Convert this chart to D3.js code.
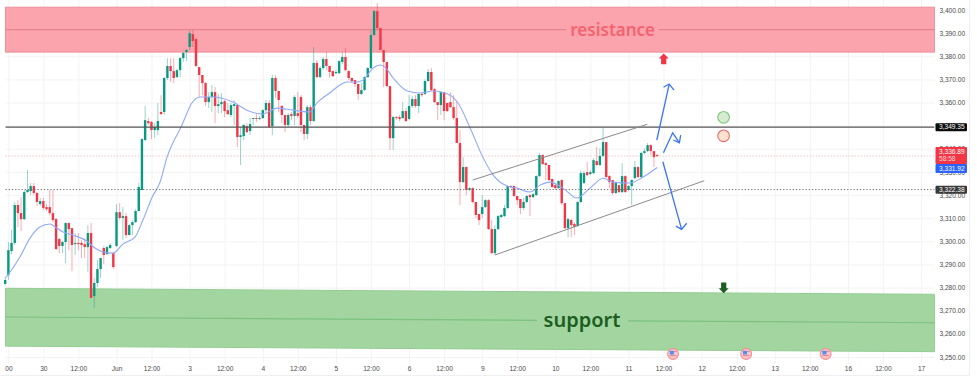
<!DOCTYPE html>
<html>
<head>
<meta charset="utf-8">
<script src="https://cdn.jsdelivr.net/npm/d3@7"></script>
<style>
  html, body { margin: 0; padding: 0; background: #fff; }
  svg { display: block; font-family: "Liberation Sans", Arial, sans-serif; }
</style>
</head>
<body>
<script>
// hourly candles, one entry per bar
const opens = [
  3281.6,3285.4,3295.8,3299.3,3315.7,3312.2,3309.6,3321.3,3321.7,3323.9,
  3320.9,3316.1,3317.4,3314.8,3314.8,3312.2,3309.6,3301.0,3298.0,3299.7,
  3307.9,3305.7,3298.8,3299.3,3299.3,3298.8,3297.5,3303.6,3276.3,3282.0,
  3288.0,3297.1,3294.5,3297.1,3294.9,3298.0,3312.6,3310.1,3310.9,3302.7,
  3307.0,3308.3,3313.1,3322.2,3343.8,3352.0,3351.6,3348.1,3348.1,3355.9,
  3355.9,3370.6,3375.8,3373.6,3371.0,3374.0,3379.2,3381.8,3384.0,3389.6,
  3387.4,3375.3,3371.9,3368.4,3360.2,3362.4,3364.5,3358.5,3359.3,3360.6,
  3356.7,3354.6,3358.5,3358.9,3345.1,3345.5,3349.8,3347.7,3352.9,3353.3,
  3352.9,3353.3,3356.7,3359.8,3349.8,3370.6,3365.0,3358.5,3354.6,3350.3,
  3355.0,3354.2,3355.4,3362.4,3350.3,3346.4,3358.0,3352.0,3377.1,3371.0,
  3374.9,3378.8,3375.8,3373.6,3372.7,3372.7,3377.5,3379.7,3373.6,3370.6,
  3369.7,3368.0,3363.7,3365.4,3371.0,3374.9,3389.2,3399.5,3392.2,3382.7,
  3377.5,3367.1,3344.6,3353.7,3353.7,3353.3,3356.3,3352.9,3358.5,3361.5,
  3358.5,3363.7,3363.7,3369.3,3373.2,3365.8,3360.2,3358.9,3364.5,3359.8,
  3360.2,3358.0,3353.3,3342.5,3325.6,3332.1,3322.2,3323.0,3317.0,3311.8,
  3311.8,3314.8,3317.8,3305.3,3294.9,3305.3,3310.5,3310.9,3314.4,3323.9,
  3323.9,3319.6,3318.3,3314.4,3317.0,3320.0,3319.1,3320.0,3328.2,3337.3,
  3333.8,3333.0,3326.9,3324.3,3323.0,3326.5,3316.5,3305.7,3309.2,3307.5,
  3306.6,3317.0,3325.2,3329.9,3329.1,3329.5,3334.7,3333.0,3336.9,3342.9,
  3328.2,3326.5,3320.9,3324.3,3321.3,3328.2,3322.2,3323.9,3327.3,3332.1,
  3327.8,3338.2,3339.0,3341.6,3339.0,3337.3
];
const highs = [
  3284.6,3299.7,3304.9,3317.0,3317.8,3319.1,3322.2,3330.8,3325.2,3325.2,
  3321.3,3318.7,3318.7,3316.1,3322.2,3322.2,3310.1,3301.4,3300.1,3308.3,
  3308.3,3305.7,3303.6,3303.6,3300.5,3301.4,3307.0,3307.9,3284.1,3291.9,
  3292.8,3298.0,3298.0,3299.3,3295.4,3316.1,3316.5,3314.8,3312.2,3307.5,
  3309.2,3313.9,3325.2,3344.6,3358.5,3353.3,3352.0,3351.1,3359.8,3363.2,
  3371.0,3379.2,3379.2,3379.2,3374.5,3379.7,3381.8,3383.1,3391.3,3391.3,
  3387.9,3375.3,3371.9,3368.9,3364.5,3367.6,3366.7,3363.7,3364.1,3361.1,
  3359.8,3359.8,3361.1,3358.9,3349.4,3350.7,3351.1,3353.3,3353.3,3355.0,
  3354.2,3357.2,3361.1,3361.1,3371.9,3371.9,3365.0,3358.9,3354.6,3355.4,
  3355.9,3363.2,3364.5,3363.2,3350.3,3358.9,3358.9,3384.0,3378.4,3375.8,
  3379.7,3381.8,3375.8,3373.6,3374.0,3378.4,3381.8,3383.5,3374.0,3371.0,
  3369.7,3368.0,3368.4,3371.4,3375.3,3391.3,3400.0,3403.0,3392.2,3382.7,
  3377.5,3367.1,3354.2,3354.2,3354.6,3360.2,3357.6,3363.2,3362.8,3363.2,
  3364.1,3364.5,3370.1,3374.5,3374.9,3366.3,3360.2,3364.5,3364.5,3359.8,
  3364.5,3363.2,3360.2,3348.1,3336.4,3332.5,3323.5,3323.5,3317.0,3311.8,
  3320.0,3318.3,3318.3,3309.2,3307.0,3311.4,3311.8,3315.7,3324.3,3324.3,
  3324.3,3319.6,3318.3,3318.7,3320.0,3320.4,3320.9,3328.6,3338.2,3337.7,
  3334.3,3333.0,3327.3,3324.8,3326.5,3326.9,3316.5,3310.1,3309.6,3308.3,
  3317.4,3330.8,3330.4,3334.3,3330.8,3336.0,3340.8,3340.3,3349.0,3342.9,
  3328.6,3326.5,3325.6,3324.3,3333.8,3328.6,3324.3,3326.9,3334.7,3332.5,
  3338.6,3340.3,3342.5,3342.0,3339.0,3337.7
];
const lows = [
  3280.7,3283.3,3294.5,3298.4,3306.2,3304.4,3309.2,3320.9,3320.0,3320.0,
  3315.2,3315.2,3313.5,3313.1,3311.4,3308.3,3296.2,3294.9,3294.9,3290.6,
  3296.2,3287.1,3294.1,3296.2,3292.8,3292.8,3286.7,3275.5,3271.1,3280.2,
  3284.1,3290.2,3294.1,3296.7,3288.0,3297.5,3309.2,3300.5,3301.4,3302.7,
  3302.7,3307.9,3313.1,3322.2,3343.3,3350.3,3344.2,3344.6,3345.9,3354.6,
  3354.6,3369.7,3368.9,3368.4,3370.6,3371.0,3377.5,3377.9,3382.7,3384.0,
  3375.3,3362.4,3363.2,3358.5,3357.6,3355.9,3351.1,3355.4,3355.4,3353.7,
  3354.6,3353.7,3350.3,3340.8,3333.0,3343.8,3346.8,3345.9,3350.3,3351.6,
  3352.4,3352.9,3355.4,3349.0,3345.9,3361.9,3355.9,3351.1,3347.2,3349.4,
  3352.4,3350.3,3353.3,3347.2,3343.8,3344.2,3350.3,3351.6,3370.6,3370.6,
  3374.0,3374.0,3370.6,3371.0,3372.3,3372.3,3376.6,3373.6,3369.7,3368.4,
  3366.7,3361.1,3363.2,3365.0,3370.6,3374.5,3388.7,3391.3,3382.7,3366.7,
  3366.7,3339.5,3339.5,3352.4,3352.0,3352.9,3351.6,3352.4,3357.6,3357.6,
  3355.4,3362.4,3363.2,3368.9,3365.0,3359.8,3352.4,3354.6,3352.4,3355.9,
  3357.6,3352.4,3342.5,3315.7,3325.2,3320.0,3321.7,3316.5,3310.1,3307.0,
  3310.1,3314.4,3304.9,3294.5,3294.1,3304.9,3310.1,3310.5,3313.9,3323.0,
  3319.1,3315.7,3311.8,3313.5,3316.5,3310.9,3318.7,3319.6,3327.8,3333.0,
  3326.5,3326.1,3323.0,3322.2,3322.6,3315.7,3305.3,3301.8,3301.8,3302.7,
  3306.2,3316.5,3324.8,3328.2,3328.6,3329.1,3332.5,3332.5,3336.4,3327.3,
  3323.0,3320.0,3320.4,3320.9,3320.9,3320.9,3321.7,3315.7,3326.9,3327.3,
  3327.3,3337.7,3338.6,3337.3,3332.1,3336.4
];
const closes = [
  3283.3,3296.2,3299.3,3315.7,3312.2,3309.6,3321.3,3322.2,3323.9,3320.9,
  3317.0,3317.4,3314.4,3313.9,3312.2,3309.2,3296.7,3298.0,3299.7,3307.9,
  3305.3,3298.4,3299.3,3298.8,3298.4,3297.5,3303.6,3275.5,3282.0,3288.0,
  3292.8,3294.1,3297.5,3298.4,3288.9,3312.6,3310.1,3310.9,3302.7,3307.0,
  3308.3,3313.1,3323.5,3344.2,3352.4,3351.1,3348.1,3349.4,3352.0,3355.0,
  3370.6,3375.8,3373.6,3370.6,3374.0,3379.2,3381.4,3382.7,3390.0,3386.6,
  3375.8,3371.9,3368.4,3360.2,3362.4,3364.5,3358.5,3359.3,3360.2,3356.3,
  3355.0,3358.9,3359.3,3345.1,3345.9,3350.3,3347.2,3350.7,3353.3,3352.9,
  3353.3,3356.7,3359.8,3349.4,3370.6,3365.0,3361.1,3354.6,3350.3,3354.6,
  3354.2,3362.4,3354.2,3350.3,3346.4,3358.0,3352.0,3377.1,3371.0,3374.9,
  3378.8,3375.8,3373.2,3371.4,3373.2,3377.9,3379.7,3374.0,3370.6,3369.3,
  3368.0,3363.7,3365.4,3371.0,3374.9,3389.2,3399.5,3392.2,3382.7,3377.5,
  3367.1,3344.6,3353.7,3353.3,3352.9,3356.3,3352.0,3358.5,3361.5,3358.5,
  3363.7,3363.2,3369.3,3373.2,3365.4,3360.2,3358.9,3364.5,3356.3,3356.3,
  3358.0,3353.3,3342.5,3325.6,3332.1,3322.2,3323.0,3317.0,3311.4,3309.2,
  3314.8,3317.8,3305.3,3294.9,3305.3,3310.9,3311.4,3314.4,3323.9,3323.5,
  3319.6,3317.8,3314.4,3317.0,3319.6,3319.1,3320.4,3328.2,3337.3,3333.4,
  3333.0,3326.5,3323.5,3323.0,3326.1,3316.5,3305.7,3309.6,3307.0,3306.2,
  3317.0,3329.5,3329.5,3328.6,3329.9,3335.1,3333.0,3336.9,3342.9,3327.8,
  3325.6,3320.9,3325.2,3321.3,3328.2,3321.3,3323.9,3326.5,3332.1,3327.8,
  3338.2,3339.0,3341.6,3339.0,3336.4,3336.89
];

// blue moving average, read at these bars
const maBars = [0,2,4.6,7.8,10.9,14.1,15.7,18.2,21.3,25.7,28.2,30.8,33.9,37,40.8,43.3,46.2,48.7,50.9,55.6,58.7,61.3,65.3,71.6,76,81,85.5,90.5,95.8,98,102,105.3,107.5,110.6,112.5,115.7,117.9,119.4,122,126.4,130.4,134.5,139.9,142.4,146.2,150.2,153,157.8,161,165,168.2,171.3,175.4,179.8,183.9,188,191.1,196.5,200.6,205];
const maValues = [3284.1,3287.6,3293.2,3301.4,3306.2,3307.5,3306.2,3304.0,3302.7,3300.1,3297.1,3295.4,3294.9,3298.8,3301.8,3309.2,3319.1,3325.6,3336.4,3350.3,3359.8,3362.4,3362.4,3360.2,3356.7,3355.0,3357.6,3356.7,3355.9,3359.8,3364.1,3367.6,3368.9,3368.9,3369.7,3374.9,3376.2,3375.3,3370.6,3365.0,3364.1,3365.0,3363.2,3359.8,3349.0,3336.4,3329.5,3323.9,3323.0,3321.3,3324.3,3325.6,3323.0,3318.7,3323.0,3327.3,3325.6,3325.2,3327.8,3331.92];

const priceTicks = [3250,3260,3270,3280,3290,3300,3310,3320,3330,3340,3350,3360,3370,3380,3390,3400];
const timeTickBars = [1,12,23,35,46,58,69,81,92,104,115,127,138,150,161,173,184,196,207,219,230,242,253,265,276,288];
const timeTickLabels = ['00','30','12:00','Jun','12:00','3','12:00','4','12:00','5','12:00','6','12:00','9','12:00','10','12:00','11','12:00','12','12:00','13','12:00','16','12:00','17'];

const lastBar = 292.2;

const resistanceBand = [3381.8, 3401.2];
const resistanceMid = 3391.5;
const supportTop = [3279.7, 3277.1];
const supportBottom = [3254.7, 3252.3];
const supportMid = [3267.3, 3264.8];

const blackLevel = 3349.35;
const dottedLevel = 3322.38;
const lastPrice = 3336.89;
const maLast = 3331.92;

const upperTrendBars = [147, 201.9];
const upperTrendPrices = [3326.5, 3350.6];
const lowerTrendBars = [154, 219.8];
const lowerTrendPrices = [3294.1, 3326.2];

// freehand arrows: [bar, price]
const arrowUp = [[[204.9,3343.8],[208.8,3368.0]], [[207,3366.6],[208.8,3368.0],[210.3,3365.4]]];
const arrowMid = [[[207,3338.3],[209.9,3346.9],[212,3342.6]], [[210.1,3343.8],[212,3342.6],[212.4,3345.9]]];
const arrowDown = [[[206.8,3334.4],[212.7,3305.2]], [[210.9,3306.6],[212.7,3305.2],[214.3,3307.8]]];

const circleBar = 225.9;
const greenCirclePrice = 3353.6;
const redCirclePrice = 3345.6;
const newsBars = [210, 233, 258];

const width = 977;
const height = 379;
const green = '#089981';
const red = '#f23645';

const x = d3.scaleLinear([0, 292], [5.2, 933.8]);
const y = d3.scaleLinear([3250, 3400], [357, 10]);
const fmt = d3.format(',.2f');
const left = x(0.1);
const right = x(lastBar);

const svg = d3.select('body').append('svg')
  .attr('width', width)
  .attr('height', height)
  .attr('viewBox', [0, 0, width, height]);

// frame of the pane
svg.append('path')
  .attr('d', `M969.5,0V375.5H0`)
  .attr('fill', 'none')
  .attr('stroke', '#efeff1');

// axes with their grid lines
svg.append('g')
  .attr('transform', `translate(${right},0)`)
  .call(d3.axisRight(y).tickValues(priceTicks).tickFormat(fmt).tickSize(0).tickPadding(5))
  .call(g => g.select('.domain').remove())
  .call(g => g.selectAll('.tick line').clone()
    .attr('x1', left - right)
    .attr('x2', 0)
    .attr('stroke', '#f3f3f5'))
  .call(g => g.selectAll('text').attr('fill', '#4a4a4a').attr('font-size', 6.6));

svg.append('g')
  .attr('transform', 'translate(0,364)')
  .call(d3.axisBottom(x).tickValues(timeTickBars).tickFormat((d, i) => timeTickLabels[i]).tickSize(0).tickPadding(2))
  .call(g => g.select('.domain').remove())
  .call(g => g.selectAll('.tick line').clone()
    .attr('y1', -364)
    .attr('y2', 0)
    .attr('stroke', '#f3f3f5'))
  .call(g => g.selectAll('text').attr('fill', '#4a4a4a').attr('font-size', 6.6));

// resistance and support zones
const zones = svg.append('g');
zones.append('rect')
  .attr('x', left)
  .attr('width', right - left)
  .attr('y', y(resistanceBand[1]))
  .attr('height', y(resistanceBand[0]) - y(resistanceBand[1]))
  .attr('fill', '#fca4ad')
  .attr('stroke', '#ec8f98');
zones.append('path')
  .attr('d', d3.line()([
    [left, y(supportTop[0])], [right, y(supportTop[1])],
    [right, y(supportBottom[1])], [left, y(supportBottom[0])]
  ]) + 'Z')
  .attr('fill', '#a3d5a1')
  .attr('stroke', '#93cd92');

// zone mid lines stop either side of the labels
const midLine = (x1, x2, y1, y2, color) => zones.append('line')
  .attr('x1', x1).attr('x2', x2).attr('y1', y1).attr('y2', y2)
  .attr('stroke', color).attr('stroke-width', 1.2);
midLine(left, 566, y(resistanceMid), y(resistanceMid), '#e5838d');
midLine(659, right, y(resistanceMid), y(resistanceMid), '#e5838d');
const supportAt = d3.scaleLinear([left, right], [y(supportMid[0]), y(supportMid[1])]);
midLine(left, 537, supportAt(left), supportAt(537), '#7cc17e');
midLine(628, right, supportAt(628), supportAt(right), '#7cc17e');

// level lines
svg.append('line')
  .attr('x1', left).attr('x2', right)
  .attr('y1', y(lastPrice)).attr('y2', y(lastPrice))
  .attr('stroke', '#f7b6bb').attr('stroke-width', 0.8).attr('stroke-dasharray', '1.5 1.5');

// candles
const bars = d3.range(opens.length);
const candleColor = i => closes[i] >= opens[i] ? green : red;
svg.append('g')
  .selectAll('line')
  .data(bars)
  .join('line')
  .attr('x1', i => x(i)).attr('x2', i => x(i))
  .attr('y1', i => y(highs[i])).attr('y2', i => y(lows[i]))
  .attr('stroke', candleColor)
  .attr('stroke-opacity', 0.42);
svg.append('g')
  .selectAll('rect')
  .data(bars)
  .join('rect')
  .attr('x', i => x(i) - 1.2)
  .attr('width', 2.4)
  .attr('y', i => y(Math.max(opens[i], closes[i])))
  .attr('height', i => Math.max(0.8, Math.abs(y(opens[i]) - y(closes[i]))))
  .attr('fill', candleColor);

// moving average
svg.append('path')
  .attr('d', d3.line().curve(d3.curveMonotoneX).x(d => x(d)).y((d, i) => y(maValues[i]))(maBars))
  .attr('fill', 'none')
  .attr('stroke', '#8fa9fb')
  .attr('stroke-width', 1.1);

svg.append('line')
  .attr('x1', left).attr('x2', right)
  .attr('y1', y(blackLevel)).attr('y2', y(blackLevel))
  .attr('stroke', '#555').attr('stroke-width', 1.4);
svg.append('line')
  .attr('x1', left).attr('x2', right)
  .attr('y1', y(dottedLevel)).attr('y2', y(dottedLevel))
  .attr('stroke', '#6a6a6a').attr('stroke-dasharray', '1.2 2');

// channel
[[upperTrendBars, upperTrendPrices], [lowerTrendBars, lowerTrendPrices]].forEach(([b, p]) => {
  svg.append('line')
    .attr('x1', x(b[0])).attr('x2', x(b[1]))
    .attr('y1', y(p[0])).attr('y2', y(p[1]))
    .attr('stroke', '#8a8a8a').attr('stroke-width', 1);
});

// blue scenario arrows
const arrowLine = d3.line().x(d => x(d[0])).y(d => y(d[1]));
svg.append('g')
  .selectAll('path')
  .data([...arrowUp, ...arrowMid, ...arrowDown])
  .join('path')
  .attr('d', arrowLine)
  .attr('fill', 'none')
  .attr('stroke', '#3a74f7')
  .attr('stroke-width', 1.3);

// circles next to the black line
svg.append('circle')
  .attr('cx', x(circleBar)).attr('cy', y(greenCirclePrice)).attr('r', 5.8)
  .attr('fill', '#d5ecd2').attr('stroke', '#7fc77f').attr('stroke-width', 1.1);
svg.append('circle')
  .attr('cx', x(circleBar)).attr('cy', y(redCirclePrice)).attr('r', 5.8)
  .attr('fill', '#fde3cf').attr('stroke', '#f0686a').attr('stroke-width', 1.1);

// small block arrows above resistance and support markers
const blockArrow = (cx, cy, dir, color) => svg.append('path')
  .attr('transform', `translate(${cx},${cy}) scale(1,${dir})`)
  .attr('d', 'M0,-5.6L5,-0.6H2.6V5.2H-2.6V-0.6H-5Z')
  .attr('fill', color);
blockArrow(663.7, 59, 1, '#f23645');
blockArrow(723.7, 287.6, -1, '#1b5e20');

// zone labels
svg.append('text')
  .attr('x', 612.7).attr('y', y(resistanceMid) + 6)
  .attr('text-anchor', 'middle')
  .attr('font-family', '"Noto Sans", sans-serif')
  .attr('font-size', 17)
  .attr('font-weight', 600)
  .attr('fill', '#f4636f')
  .text('resistance');
svg.append('text')
  .attr('x', 582).attr('y', 326.5)
  .attr('text-anchor', 'middle')
  .attr('font-family', '"Noto Sans", sans-serif')
  .attr('font-size', 20)
  .attr('font-weight', 600)
  .attr('fill', '#1b5e20')
  .text('support');

// economic calendar markers
const news = svg.append('g')
  .selectAll('g')
  .data(newsBars)
  .join('g')
  .attr('transform', d => `translate(${x(d)},354)`);
news.append('circle').attr('r', 5.4).attr('fill', '#fbc9cc').attr('stroke', '#f68d94').attr('stroke-width', 1.1);
news.append('rect').attr('x', -3.4).attr('y', -3).attr('width', 6.8).attr('height', 1.1).attr('fill', '#f2868e');
news.append('rect').attr('x', -3.4).attr('y', 1).attr('width', 6.8).attr('height', 1.1).attr('fill', '#f2868e');
news.append('path').attr('d', 'M-3.2,0.5V-3.2H0.8V0.5Z').attr('fill', '#4d8ff2');

// price tags
const tag = (top, h, fill, lines) => {
  svg.append('rect')
    .attr('x', 935.5).attr('y', top).attr('width', 31.5).attr('height', h)
    .attr('rx', 1).attr('fill', fill);
  lines.forEach(([txt, cy, color]) => {
    svg.append('text')
      .attr('x', 939).attr('y', cy + 2.3)
      .attr('fill', color || '#fff')
      .attr('font-size', 6.6)
      .text(txt);
  });
};
tag(y(blackLevel) - 4, 8, '#0c0c0c', [[fmt(blackLevel), y(blackLevel)]]);
tag(y(dottedLevel) - 3.8, 8, '#3a3a3a', [[fmt(dottedLevel), y(dottedLevel)]]);
tag(147, 17, red, [[fmt(lastPrice), 151.5], ['58:58', 159, '#ffd6da']]);
tag(164, 9, '#2962ff', [[fmt(maLast), 168.5]]);
</script>
</body>
</html>
